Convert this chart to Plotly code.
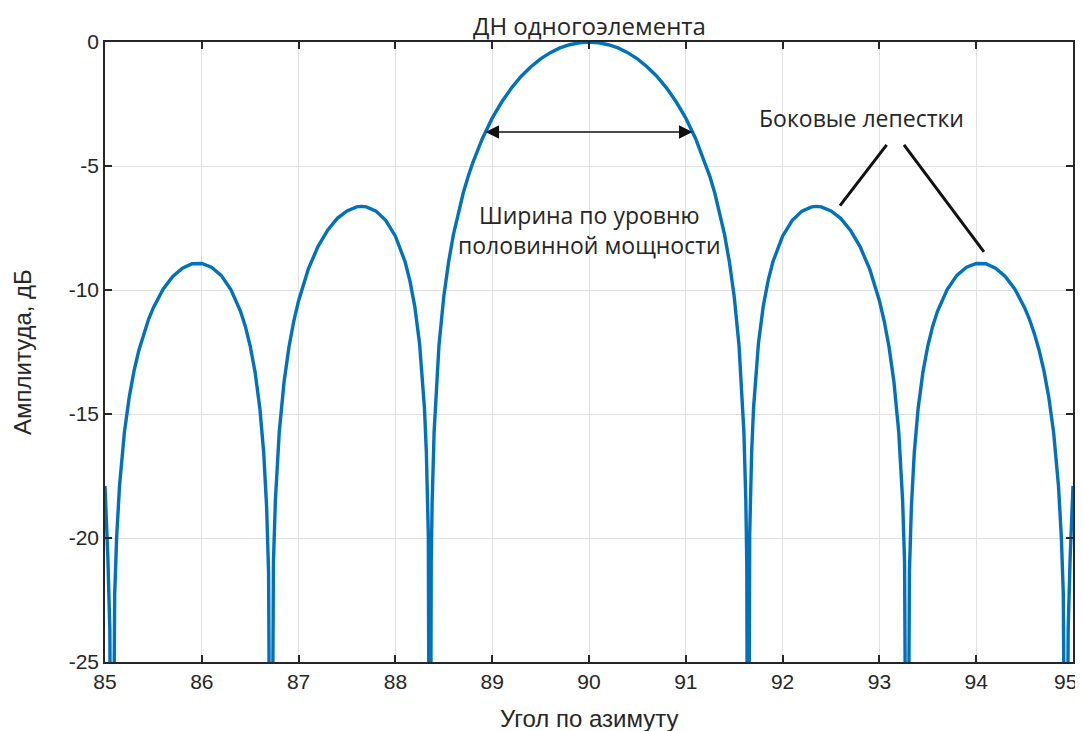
import plotly.graph_objects as go

# Angle (deg) and amplitude (dB)
angle_deg = [
    85.0, 85.03, 85.05, 85.071, 85.1, 85.12, 85.15, 85.2, 85.25, 85.3, 85.35, 85.4,
    85.45, 85.5, 85.6, 85.7, 85.8, 85.9, 85.95, 86.0, 86.1, 86.2, 86.3, 86.4,
    86.45, 86.5, 86.55, 86.6, 86.64, 86.67, 86.69, 86.714, 86.74, 86.76, 86.8, 86.85,
    86.9, 86.95, 87.0, 87.1, 87.2, 87.3, 87.4, 87.5, 87.6, 87.65, 87.7, 87.8,
    87.9, 88.0, 88.1, 88.15, 88.2, 88.25, 88.3, 88.32, 88.34, 88.357, 88.37, 88.38,
    88.4, 88.45, 88.5, 88.55, 88.6, 88.65, 88.7, 88.75, 88.8, 88.9, 89.0, 89.1,
    89.2, 89.3, 89.4, 89.5, 89.6, 89.7, 89.8, 89.9, 90.0,
    90.1, 90.2, 90.3, 90.4, 90.5, 90.6, 90.7, 90.8, 90.9, 91.0, 91.1,
    91.2, 91.25, 91.3, 91.35, 91.4, 91.45, 91.5, 91.55, 91.6, 91.62, 91.63, 91.643,
    91.66, 91.68, 91.7, 91.75, 91.8, 91.85, 91.9, 92.0, 92.1, 92.2, 92.3, 92.35,
    92.4, 92.5, 92.6, 92.7, 92.8, 92.9, 93.0, 93.05, 93.1, 93.15, 93.2, 93.24,
    93.26, 93.286, 93.31, 93.33, 93.36, 93.4, 93.45, 93.5, 93.55, 93.6, 93.7, 93.8,
    93.9, 94.0, 94.05, 94.1, 94.2, 94.3, 94.4, 94.5, 94.55, 94.6, 94.65, 94.7,
    94.75, 94.8, 94.85, 94.88, 94.9, 94.929, 94.95, 94.97, 95.0,
]
amplitude_db = [
    -17.9, -20.83, -23.71, -40.0, -22.29, -19.99, -17.90, -15.75, -14.33, -13.26, -12.43, -11.75,
    -11.18, -10.71, -9.97, -9.45, -9.12, -8.94, -8.92, -8.93, -9.08, -9.41, -9.98, -10.86,
    -11.47, -12.26, -13.30, -14.78, -16.58, -18.79, -21.39, -40.0, -20.99, -18.49, -15.73, -13.70,
    -12.31, -11.26, -10.43, -9.16, -8.25, -7.59, -7.11, -6.81, -6.65, -6.63, -6.65, -6.82,
    -7.19, -7.83, -8.86, -9.63, -10.66, -12.17, -14.75, -16.57, -19.89, -40.0, -20.99, -18.48,
    -15.71, -12.24, -10.26, -8.86, -7.76, -6.87, -6.10, -5.44, -4.86, -3.88, -3.07, -2.41,
    -1.85, -1.38, -1.00, -0.68, -0.43, -0.24, -0.11, -0.03, 0.0,
    -0.03, -0.11, -0.24, -0.43, -0.68, -1.00, -1.38, -1.85, -2.41, -3.07, -3.88,
    -4.86, -5.44, -6.10, -6.87, -7.76, -8.86, -10.26, -12.24, -15.71, -18.48, -20.99, -40.0,
    -19.89, -16.57, -14.75, -12.17, -10.66, -9.63, -8.86, -7.83, -7.19, -6.82, -6.65, -6.63,
    -6.65, -6.81, -7.11, -7.59, -8.25, -9.16, -10.43, -11.26, -12.31, -13.70, -15.73, -18.49,
    -20.99, -40.0, -21.39, -18.79, -16.58, -14.78, -13.30, -12.26, -11.47, -10.86, -9.98, -9.41,
    -9.08, -8.93, -8.92, -8.94, -9.12, -9.45, -9.97, -10.71, -11.18, -11.75, -12.43, -13.26,
    -14.33, -15.75, -17.90, -19.99, -22.29, -40.0, -23.71, -20.83, -17.9,
]

x_ticks = [85, 86, 87, 88, 89, 90, 91, 92, 93, 94, 95]
y_ticks = [-25, -20, -15, -10, -5, 0]

title_text = "ДН одногоэлемента"
x_title = "Угол по азимуту"
y_title = "Амплитуда, дБ"
hpbw_label = "Ширина по уровню<br>половинной мощности"
sidelobe_label = "Боковые лепестки"

AXIS_COLOR = "#262626"
GRID_COLOR = "#e0e0e0"
LINE_COLOR = "#0072BD"
TICK_FONT = dict(family="Liberation Sans, Arial, sans-serif", size=21, color=AXIS_COLOR)
LABEL_FONT = dict(family="Liberation Sans, Arial, sans-serif", size=24, color=AXIS_COLOR)
NOTE_FONT = dict(family="Open Sans, sans-serif", size=23, color="#262626")

fig = go.Figure()
fig.add_trace(go.Scatter(
    x=angle_deg, y=amplitude_db, mode="lines",
    line=dict(color=LINE_COLOR, width=3.4),
    showlegend=False, hoverinfo="x+y",
))

axis_common = dict(
    showline=True, linecolor=AXIS_COLOR, linewidth=1.5, mirror="allticks",
    ticks="inside", ticklen=7, tickwidth=1.5, tickcolor=AXIS_COLOR,
    showgrid=True, gridcolor=GRID_COLOR, gridwidth=1,
    zeroline=False, tickfont=TICK_FONT, automargin=False,
)

# The last x tick label sits at the very edge of the page; it is drawn as an
# annotation anchored at its right edge so that it stays inside the figure.
last_x = x_ticks[-1]
x_ticktext = [str(v) if v != last_x else "" for v in x_ticks]

# The page body adds an 8 px offset, so the figure is 8 px smaller and margins shifted.
fig.update_layout(
    width=1075, height=723,
    margin=dict(l=97, r=10, t=34, b=69),
    paper_bgcolor="white", plot_bgcolor="white",
    xaxis=dict(range=[85, 95], tickvals=x_ticks, ticktext=x_ticktext, **axis_common),
    yaxis=dict(range=[-25, 0], tickvals=y_ticks, ticktext=[str(v) for v in y_ticks],
               **axis_common),
)

fig.add_annotation(text=str(last_x), xref="x", yref="paper", x=last_x, y=0,
                   xshift=5, yshift=-19, xanchor="right", yanchor="middle",
                   showarrow=False, borderpad=0, font=TICK_FONT)

# Title and axis labels placed at the reference pixel positions
fig.add_annotation(text=title_text, xref="paper", yref="paper", x=0.5, y=1,
                   yshift=17, xanchor="center", yanchor="middle", showarrow=False,
                   borderpad=0,
                   font=dict(family="Open Sans, sans-serif", size=24, color="#262626"))
fig.add_annotation(text=x_title, xref="paper", yref="paper", x=0.5, y=0,
                   yshift=-56, xanchor="center", yanchor="middle", showarrow=False,
                   font=LABEL_FONT)
fig.add_annotation(text=y_title, xref="paper", yref="paper", x=0, y=0.5,
                   xshift=-83, xanchor="center", yanchor="middle", showarrow=False,
                   textangle=-90, font=LABEL_FONT)

# Half-power width double arrow
fig.add_annotation(
    x=91.07, y=-3.63, ax=88.915, ay=-3.63, xref="x", yref="y", axref="x", ayref="y",
    text="", showarrow=True, arrowhead=2, startarrowhead=2, arrowside="end+start",
    arrowsize=1.7, startarrowsize=1.7, arrowwidth=1.6, arrowcolor="#111111",
)
fig.add_annotation(
    x=90.0, y=-7.6, xref="x", yref="y", text=hpbw_label, showarrow=False,
    font=NOTE_FONT, align="center", xanchor="center", yanchor="middle",
)

# Side-lobe callout
fig.add_annotation(
    x=92.82, y=-3.06, xref="x", yref="y", text=sidelobe_label, showarrow=False,
    font=NOTE_FONT, xanchor="center", yanchor="middle",
)
fig.add_shape(type="line", xref="x", yref="y", x0=93.075, y0=-4.15, x1=92.593, y1=-6.6,
              line=dict(color="#111111", width=3))
fig.add_shape(type="line", xref="x", yref="y", x0=93.254, y0=-4.15, x1=94.08, y1=-8.46,
              line=dict(color="#111111", width=3))

fig.write_html("out.html")
